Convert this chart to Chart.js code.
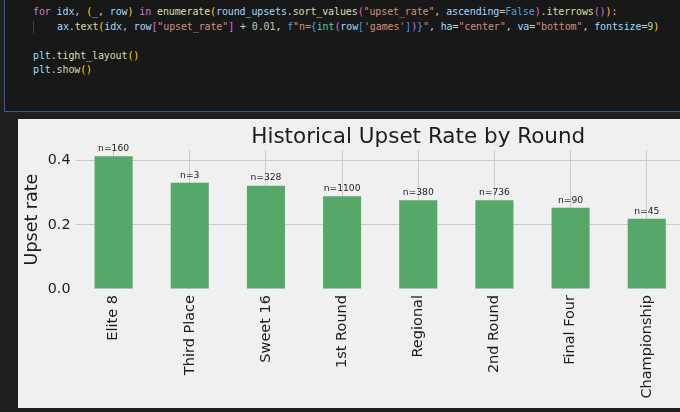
<!DOCTYPE html>
<html>
<head>
<meta charset="utf-8">
<script src="https://cdn.jsdelivr.net/npm/chart.js@4.4.1/dist/chart.umd.min.js"></script>
<style>
    html, body {
        margin: 0;
        width: 680px;
        height: 412px;
        overflow: hidden;
        background: #1f1f1f;
    }
    #cell {
        position: absolute;
        left: 4px;
        top: -2px;
        width: 720px;
        height: 112px;
        border: 1px solid #2d5f93;
        background: #181818;
    }
    .ln {
        position: absolute;
        white-space: pre;
        font-family: "DejaVu Sans Mono", monospace;
        font-size: 10px;
        letter-spacing: -0.12px;
        line-height: 14.5px;
        color: #cccccc;
    }
    #guide {
        position: absolute;
        left: 28px;
        top: 22px;
        width: 1px;
        height: 12px;
        background: #404040;
    }
    .kw { color: #c586c0; }
    .v { color: #9cdcfe; }
    .fn { color: #dcdcaa; }
    .s { color: #ce9178; }
    .n { color: #b5cea8; }
    .c { color: #569cd6; }
    .t { color: #4ec9b0; }
    .b1 { color: #ffd700; }
    .b2 { color: #da70d6; }
    .b3 { color: #179fff; }
    #panel {
        position: absolute;
        left: 18px;
        top: 119px;
        width: 800px;
        height: 289px;
        background: #f0f0f0;
    }
</style>
</head>
<body>
<div id="cell">
    <div id="guide"></div>
    <div class="ln" style="left:28px;top:6px"><span class="kw">for</span> <span class="v">idx</span>, <span class="b1">(</span><span class="v">_</span>, <span class="v">row</span><span class="b1">)</span> <span class="kw">in</span> <span class="fn">enumerate</span><span class="b1">(</span><span class="v">round_upsets</span>.<span class="fn">sort_values</span><span class="b2">(</span><span class="s">"upset_rate"</span>, <span class="v">ascending</span>=<span class="c">False</span><span class="b2">)</span>.<span class="fn">iterrows</span><span class="b2">()</span><span class="b1">)</span>:</div>
    <div class="ln" style="left:52px;top:20.5px"><span class="v">ax</span>.<span class="fn">text</span><span class="b1">(</span><span class="v">idx</span>, <span class="v">row</span><span class="b2">[</span><span class="s">"upset_rate"</span><span class="b2">]</span> + <span class="n">0.01</span>, <span class="c">f</span><span class="s">"n=</span><span class="c">{</span><span class="t">int</span><span class="b2">(</span><span class="v">row</span><span class="b3">[</span><span class="s">'games'</span><span class="b3">]</span><span class="b2">)</span><span class="c">}</span><span class="s">"</span>, <span class="v">ha</span>=<span class="s">"center"</span>, <span class="v">va</span>=<span class="s">"bottom"</span>, <span class="v">fontsize</span>=<span class="n">9</span><span class="b1">)</span></div>
    <div class="ln" style="left:28px;top:49.5px"><span class="v">plt</span>.<span class="fn">tight_layout</span><span class="b1">()</span></div>
    <div class="ln" style="left:28px;top:64px"><span class="v">plt</span>.<span class="fn">show</span><span class="b1">()</span></div>
</div>
<div id="panel"><canvas id="display" width="800" height="289"></canvas></div>
<script>
    const roundNames = ["Elite 8", "Third Place", "Sweet 16", "1st Round", "Regional", "2nd Round", "Final Four", "Championship"];
    const upsetRates = [0.414, 0.331, 0.322, 0.289, 0.277, 0.277, 0.253, 0.219];
    const gameCounts = [160, 3, 328, 1100, 380, 736, 90, 45];
    const rateTicks = [0, 0.2, 0.4];

    const titleText = "Historical Upset Rate by Round";
    const textColor = "#1c1c1c";
    const gridColor = "#cbcbcb";

    // matplotlib puts the title over the middle of the axes, not the canvas
    let axesTitle = {
        id: "axesTitle",
        afterDraw: function (chart) {
            const ctx = chart.ctx;
            const area = chart.chartArea;
            ctx.save();
            ctx.font = "21.5px 'DejaVu Sans'";
            ctx.fillStyle = textColor;
            ctx.textAlign = "center";
            ctx.textBaseline = "alphabetic";
            ctx.fillText(titleText, (area.left + area.right) / 2, 24);
            ctx.restore();
        }
    };

    let countLabels = {
        id: "countLabels",
        afterDatasetsDraw: function (chart) {
            const ctx = chart.ctx;
            const meta = chart.getDatasetMeta(0);
            const yScale = chart.scales.y;
            ctx.save();
            ctx.font = "9.2px 'DejaVu Sans'";
            ctx.fillStyle = textColor;
            ctx.textAlign = "center";
            ctx.textBaseline = "alphabetic";
            meta.data.forEach((bar, i) => {
                ctx.fillText(`n=${gameCounts[i]}`, bar.x, yScale.getPixelForValue(upsetRates[i] + 0.01) - 2);
            });
            ctx.restore();
        }
    };

    new Chart(document.getElementById("display"), {
        type: "bar",
        data: {
            datasets: [{
                data: upsetRates.map((v, i) => ({x: i, y: v})),
                backgroundColor: "#55a868",
                borderWidth: 0,
                categoryPercentage: 1,
                barPercentage: 0.5
            }]
        },
        options: {
            responsive: false,
            animation: false,
            layout: {
                autoPadding: false,
                padding: {top: 31, right: 57, left: 0, bottom: 0}
            },
            plugins: {
                legend: {display: false},
                tooltip: {enabled: false}
            },
            scales: {
                x: {
                    type: "linear",
                    offset: false,
                    min: -0.5,
                    max: 8.5,
                    afterBuildTicks: (axis) => {
                        axis.ticks = roundNames.map((_, i) => ({value: i}));
                    },
                    afterFit: (axis) => {
                        axis.height = 119;
                        axis.paddingLeft = 0;
                        axis.paddingRight = 0;
                    },
                    ticks: {
                        autoSkip: false,
                        maxRotation: 90,
                        minRotation: 90,
                        padding: 6,
                        color: textColor,
                        font: {family: "DejaVu Sans", size: 14.5},
                        callback: (value) => roundNames[value]
                    },
                    grid: {color: gridColor, lineWidth: 1, drawTicks: false, offset: false},
                    border: {display: false}
                },
                y: {
                    min: 0,
                    max: 0.4333,
                    afterBuildTicks: (axis) => {
                        axis.ticks = rateTicks.map((v) => ({value: v}));
                    },
                    afterFit: (axis) => {
                        axis.width = 57.5;
                        axis.paddingTop = 0;
                        axis.paddingBottom = 0;
                    },
                    ticks: {
                        padding: 5,
                        color: textColor,
                        font: {family: "DejaVu Sans", size: 14.3},
                        callback: (value) => value.toFixed(1)
                    },
                    grid: {
                        color: (c) => c.tick && c.tick.value === 0 ? "rgba(0,0,0,0)" : gridColor,
                        lineWidth: 1,
                        drawTicks: false
                    },
                    border: {display: false},
                    title: {
                        display: true,
                        text: "Upset rate",
                        color: textColor,
                        font: {family: "DejaVu Sans", size: 17.5},
                        padding: {top: 4, bottom: 0}
                    }
                }
            }
        },
        plugins: [axesTitle, countLabels]
    });
</script>
</body>
</html>
